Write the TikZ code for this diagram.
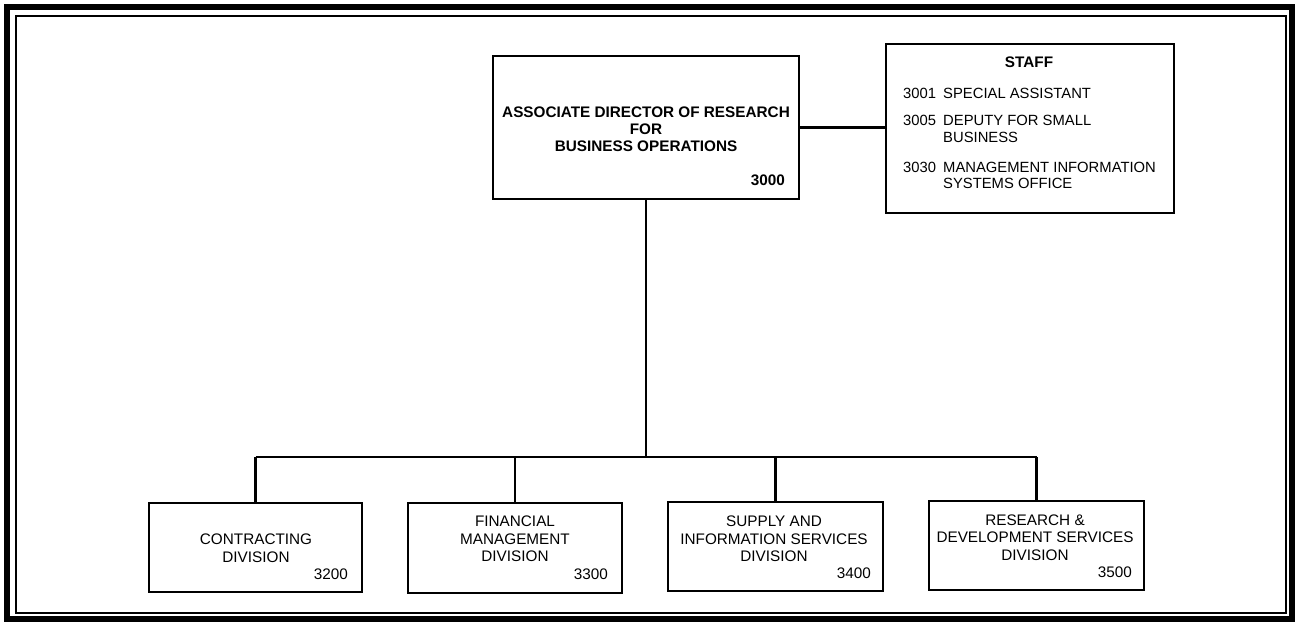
\documentclass[tikz,border=0pt]{standalone}
\usepackage{fontspec}
\setmainfont{Liberation Sans}
\usetikzlibrary{calc}
\begin{document}
\begin{tikzpicture}[x=1pt,y=-1pt,
  box/.style={draw, line width=2.6pt, inner sep=0pt, fill=white},
  conn/.style={line width=2.6pt},
  txt/.style={font=\fontsize{15.3}{17.5}\selectfont, align=center, inner sep=0pt},
  btxt/.style={font=\fontsize{15.3}{17}\selectfont\bfseries, align=center, inner sep=0pt},
  stxt/.style={font=\fontsize{14.8}{16.5}\selectfont, inner sep=0pt, anchor=west},
  num/.style={font=\fontsize{15.3}{16}\selectfont, inner sep=0pt, anchor=east},
  bnum/.style={font=\fontsize{15.3}{16}\selectfont\bfseries, inner sep=0pt, anchor=east}]
\useasboundingbox (0,0) rectangle (1297,625);
\fill[white] (0,0) rectangle (1297,625);
% frame
\draw[line width=6pt] (7,7) rectangle (1292,619);
\draw[line width=2.5pt] (16,16) rectangle (1286,613);

% boxes
\node[box, minimum width=306pt, minimum height=143pt] (dir) at (646,127.5) {};
\node[box, minimum width=288pt, minimum height=169pt] (staff) at (1030,128.5) {};
\node[box, minimum width=213pt, minimum height=89pt] (b1) at (255.5,547.5) {};
\node[box, minimum width=214pt, minimum height=90pt] (b2) at (515,548) {};
\node[box, minimum width=215pt, minimum height=89pt] (b3) at (775.5,546.5) {};
\node[box, minimum width=215pt, minimum height=89pt] (b4) at (1036.5,545.5) {};

% director text
\node[btxt] (dirt) at (646,129) {ASSOCIATE DIRECTOR OF RESEARCH\\FOR\\BUSINESS OPERATIONS};
\node[bnum] (dirn) at (785,180) {3000};

% staff text
\node[btxt] (stafft) at (1029,62) {STAFF};
\node[stxt] (s1n) at (903,93) {3001};
\node[stxt] (s1t) at (943,93) {SPECIAL ASSISTANT};
\node[stxt] (s2n) at (903,120) {3005};
\node[stxt] (s2t) at (943,120) {DEPUTY FOR SMALL};
\node[stxt] (s2u) at (943,137) {BUSINESS};
\node[stxt] (s3n) at (903,167) {3030};
\node[stxt] (s3t) at (943,167) {MANAGEMENT INFORMATION};
\node[stxt] (s3u) at (943,183.5) {SYSTEMS OFFICE};

% division texts
\node[txt] (t1) at (256,548) {CONTRACTING\\DIVISION};
\node[num] (n1) at (348,574) {3200};
\node[txt] (t2) at (515,539) {FINANCIAL\\MANAGEMENT\\DIVISION};
\node[num] (n2) at (608,574) {3300};
\node[txt] (t3) at (774,539) {SUPPLY AND\\INFORMATION SERVICES\\DIVISION};
\node[num] (n3) at (871,573) {3400};
\node[txt] (t4) at (1035,537.5) {RESEARCH \&\\DEVELOPMENT SERVICES\\DIVISION};
\node[num] (n4) at (1132,572) {3500};

% connectors
\coordinate (bus) at (647,457);
\draw[conn] (dir.east) -- (dir.east -| staff.west);
\draw[conn] (dir.south) -- (dir.south |- bus);
\draw[conn] (b1.north |- bus) -- (b4.north |- bus);
\draw[conn] (b1.north |- bus) -- (b1.north);
\draw[conn] (b2.north |- bus) -- (b2.north);
\draw[conn] (b3.north |- bus) -- (b3.north);
\draw[conn] (b4.north |- bus) -- (b4.north);
\end{tikzpicture}
\end{document}
